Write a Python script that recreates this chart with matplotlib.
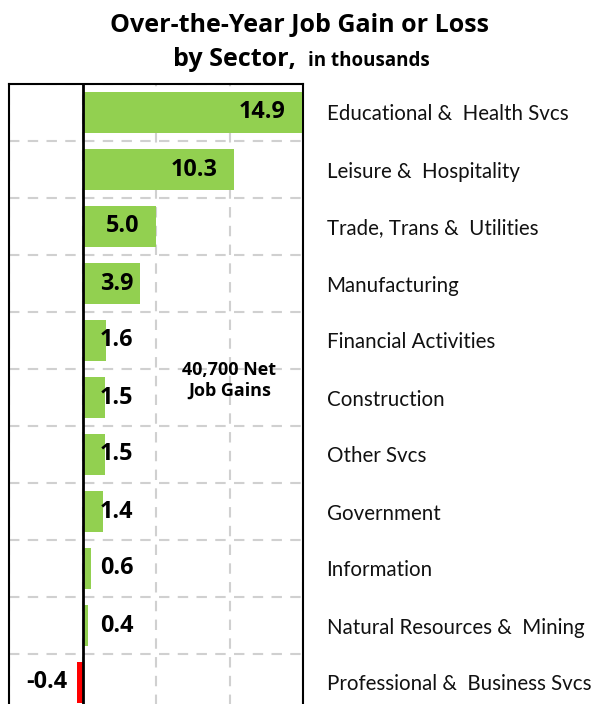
import numpy as np
import matplotlib.pyplot as plt

plt.rcParams['font.family'] = ['Lato', 'DejaVu Sans']
BOLD = ['Open Sans', 'DejaVu Sans']

sectors = ["Educational &  Health Svcs", "Leisure &  Hospitality",
           "Trade, Trans &  Utilities", "Manufacturing", "Financial Activities",
           "Construction", "Other Svcs", "Government", "Information",
           "Natural Resources &  Mining", "Professional &  Business Svcs"]
change = [14.9, 10.3, 5.0, 3.9, 1.6, 1.5, 1.5, 1.4, 0.6, 0.4, -0.4]

W, H = 610, 704
fig = plt.figure(figsize=(W / 100, H / 100), dpi=100)
# plot box: x 9..303 px, y 84..711 px (bottom runs past the picture edge)
ax = fig.add_axes([9 / W, (H - 711) / H, 294 / W, 627 / H])

y = np.arange(len(sectors))
colors = ['#92D050' if v >= 0 else '#FF0000' for v in change]
ax.barh(y, change, height=0.73, color=colors, zorder=3)

ax.set_xlim(-5, 15)
ax.set_ylim(len(sectors) - 0.5, -0.5)

# dashed grid
ax.set_xticks([-5, 0, 5, 10, 15])
ax.set_yticks(y)
ax.set_yticks(np.arange(-0.5, len(sectors), 1), minor=True)
ax.grid(True, which='major', axis='x', color='#d0d0d0', ls=(0, (5, 4)), lw=1.5, zorder=0)
ax.grid(True, which='minor', axis='y', color='#d0d0d0', ls=(0, (5, 4)), lw=1.5, zorder=0)
ax.axvline(0, color='black', lw=2, zorder=4)

ax.tick_params(axis='x', length=0, labelbottom=False)
ax.tick_params(axis='y', which='both', length=0, left=False, right=False,
               labelleft=False, labelright=True, pad=17)
ax.set_yticklabels(sectors, fontsize=14.8, color='#111111')

for s in ax.spines.values():
    s.set_color('black')
    s.set_linewidth(1.5)

# value labels
for yi, v in zip(y, change):
    if v >= 0:
        ax.text(max(v - 1.1, 3.45), yi, f"{v:.1f}", ha='right', va='center',
                fontsize=16.8, fontweight='bold', family=BOLD, color='black', zorder=5)
    else:
        ax.text(v - 0.6, yi, f"{v:.1f}", ha='right', va='center',
                fontsize=16.8, fontweight='bold', family=BOLD, color='black', zorder=5)

ax.text(10, 4.7, "40,700 Net\nJob Gains", ha='center', va='center',
        fontsize=13, fontweight='bold', family=BOLD, linespacing=1.2, zorder=5)

# title
fig.text(299 / W, 1 - 25 / H, "Over-the-Year Job Gain or Loss", ha='center',
         va='center', fontsize=18, fontweight='bold', family=BOLD)
t1 = fig.text(0, 1 - 60 / H, "by Sector,", ha='left', va='center',
              fontsize=18, fontweight='bold', family=BOLD)
t2 = fig.text(0, 1 - 61 / H, "in thousands", ha='left', va='center',
              fontsize=13.5, fontweight='bold', family=BOLD)
fig.canvas.draw()
r = fig.canvas.get_renderer()
w1 = t1.get_window_extent(r).width
w2 = t2.get_window_extent(r).width
gap = 12
x0 = 301 - (w1 + gap + w2) / 2
t1.set_x(x0 / W)
t2.set_x((x0 + w1 + gap) / W)

fig.savefig("out.png", dpi=100)
